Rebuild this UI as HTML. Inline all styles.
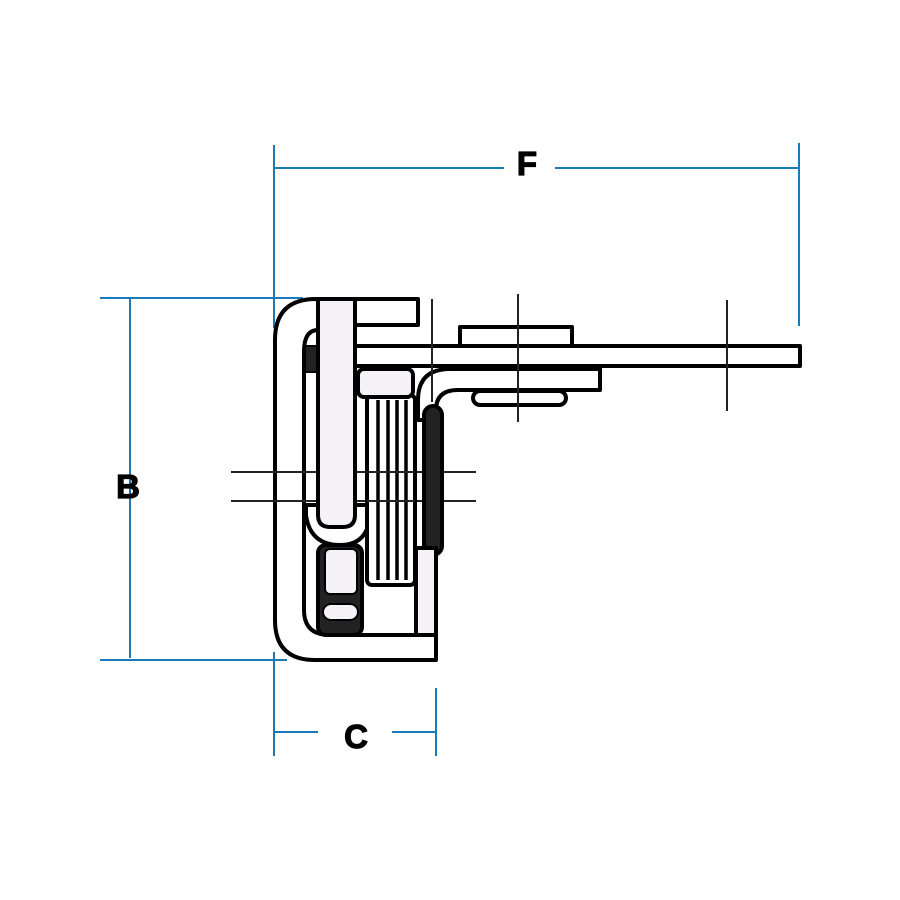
<!DOCTYPE html>
<html><head><style>html,body{margin:0;padding:0;background:#fff}svg{display:block}</style></head>
<body>
<svg width="900" height="900" viewBox="0 0 900 900" xmlns="http://www.w3.org/2000/svg">
<rect width="900" height="900" fill="#fff"/>
<g stroke="#1a7ab8" stroke-width="2" fill="none">
<line x1="274" y1="168" x2="504" y2="168"/><line x1="555" y1="168" x2="799" y2="168"/>
<line x1="274" y1="145" x2="274" y2="328"/><line x1="799" y1="143" x2="799" y2="326"/>
<line x1="130" y1="298" x2="130" y2="658"/>
<line x1="100" y1="298" x2="303" y2="298"/><line x1="100" y1="660" x2="287" y2="660"/>
<line x1="274" y1="732" x2="318" y2="732"/><line x1="392" y1="732" x2="436" y2="732"/>
<line x1="274" y1="652" x2="274" y2="756"/><line x1="436" y1="688" x2="436" y2="756"/>
</g>
<g stroke="#222" stroke-width="2">
<line x1="231" y1="472" x2="476" y2="472"/>
<line x1="231" y1="501" x2="476" y2="501"/>
</g>
<g font-family="Liberation Sans, sans-serif" font-weight="bold" font-size="33" text-anchor="middle" fill="#000" stroke="#000" stroke-width="1.2">
<text x="527" y="175">F</text><text x="128" y="498">B</text><text x="356" y="748">C</text>
</g>
<g stroke="#000" stroke-width="4" stroke-linejoin="round">
<path d="M318 299 L316 299 Q275 299 275 340 L275 620 Q275 660 315 660 L436 660 L436 635 L330 635 Q304 635 304 610 L304 352 Q304 330 318 330 Z" fill="#fff"/>
<line x1="231" y1="472" x2="476" y2="472" stroke="#222" stroke-width="2"/>
<line x1="231" y1="501" x2="476" y2="501" stroke="#222" stroke-width="2"/>
<rect x="305" y="346" width="12" height="26" fill="#222" stroke-width="2"/>
<rect x="355" y="299" width="63" height="26" fill="#fff"/>
<rect x="460" y="327" width="112" height="19" fill="#fff"/>
<rect x="355" y="346" width="445" height="20" fill="#fff"/>
<path d="M418 400 Q418 369 450 369 L600 369 L600 390 L458 390 Q436 390 436 410 L436 420 L418 420 Z" fill="#fff"/>
<rect x="473" y="391" width="93" height="14" rx="7" fill="#fff"/>
<path d="M306 515 Q310 545 340 545 Q368 545 370 515 L370 505 L306 505 Z" fill="#fff"/>
<path d="M318 299 L355 299 L355 515 Q355 527 343 527 L330 527 Q318 527 318 515 Z" fill="#f5f2f8"/>
<rect x="367" y="395" width="48" height="190" rx="5" fill="#fff"/>
<g stroke-width="3.5"><line x1="378" y1="400" x2="378" y2="580"/><line x1="388" y1="400" x2="388" y2="580"/><line x1="397" y1="400" x2="397" y2="580"/><line x1="406" y1="400" x2="406" y2="580"/></g>
<line x1="367" y1="472" x2="415" y2="472" stroke="#222" stroke-width="2"/>
<line x1="367" y1="501" x2="415" y2="501" stroke="#222" stroke-width="2"/>
<rect x="358" y="369" width="55" height="28" rx="6" fill="#f5f2f8"/>
<rect x="424" y="406" width="18" height="149" rx="9" fill="#222"/>
<rect x="416" y="548" width="20" height="87" fill="#f5f2f8"/>
<rect x="318" y="545" width="44" height="90" rx="8" fill="#222"/>
<rect x="325" y="549" width="32" height="45" rx="5" fill="#f5f2f8" stroke-width="2"/>
<rect x="323" y="604" width="35" height="16" rx="8" fill="#f5f2f8" stroke-width="2"/>
</g>
<g stroke="#222" stroke-width="2">
<line x1="432" y1="299" x2="432" y2="402"/>
<line x1="518" y1="294" x2="518" y2="422"/>
<line x1="727" y1="300" x2="727" y2="411"/>
</g>
</svg>
</body></html>
